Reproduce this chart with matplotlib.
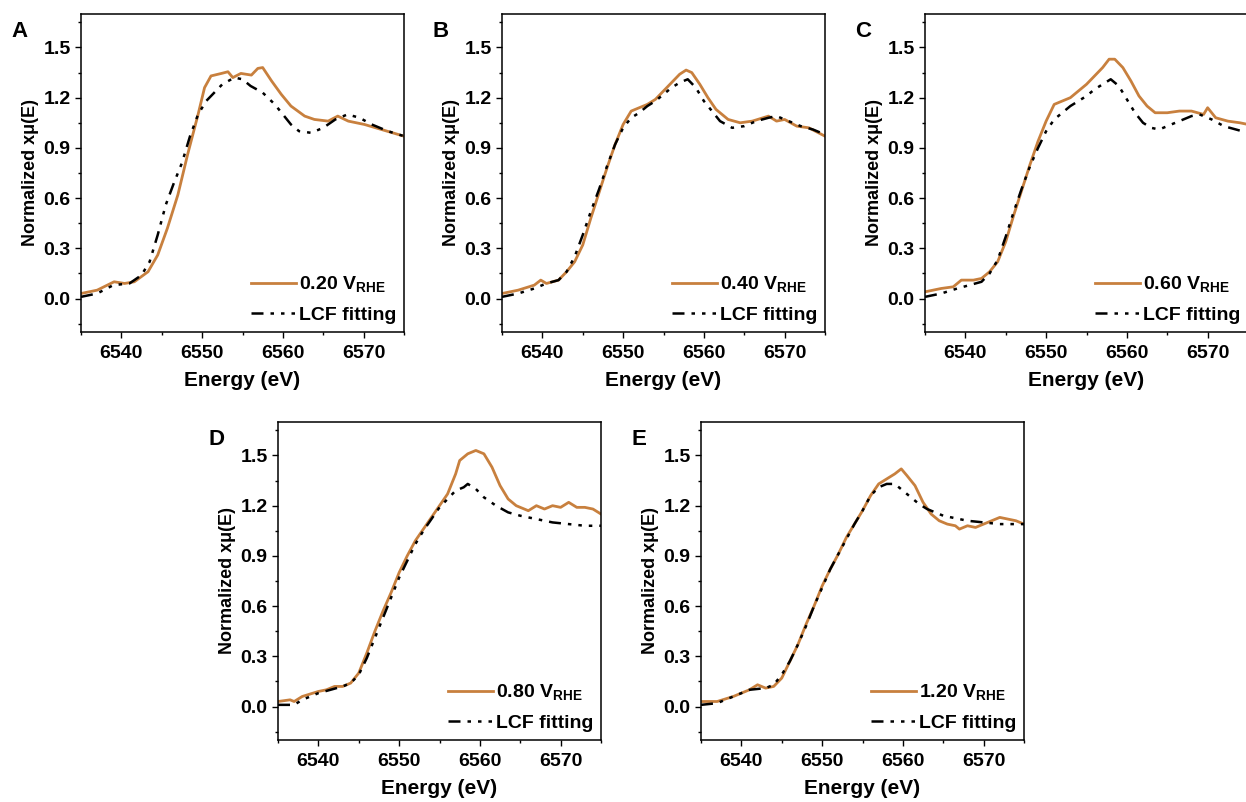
import matplotlib
matplotlib.use("Agg")
import matplotlib.pyplot as plt
from matplotlib.ticker import MultipleLocator

plt.rcParams['font.family'] = ['Liberation Sans', 'DejaVu Sans']
plt.rcParams['font.weight'] = 'bold'
plt.rcParams['mathtext.fontset'] = 'custom'
plt.rcParams['mathtext.rm'] = 'Liberation Sans:bold'
plt.rcParams['mathtext.bf'] = 'Liberation Sans:bold'

# ---- data ----
# panel A, 0.20 V
eA = [6535, 6537, 6539.1, 6540.4, 6541.6, 6543.3, 6544.5, 6545.7, 6547.0, 6548.2, 6549.5,
      6550.3, 6551.1, 6552.4, 6553.2, 6553.8, 6554.8, 6556.1, 6556.9, 6557.5, 6558.6, 6559.8,
      6561.0, 6562.7, 6563.9, 6565.6, 6566.8, 6568.1, 6570.1, 6572.2, 6575]
muA = [0.03, 0.05, 0.10, 0.09, 0.10, 0.16, 0.26, 0.42, 0.62, 0.86, 1.10,
       1.26, 1.33, 1.345, 1.355, 1.32, 1.345, 1.335, 1.375, 1.38, 1.30, 1.22,
       1.15, 1.09, 1.07, 1.06, 1.09, 1.06, 1.04, 1.01, 0.97]
eA_fit = [6535, 6537, 6539, 6541, 6542.5, 6543.5, 6544.5, 6545.5, 6546.5, 6547.5, 6548.5,
          6549.5, 6550.5, 6551.5, 6552.5, 6554, 6555, 6556, 6557.5, 6559, 6560, 6561,
          6562, 6563.5, 6565, 6566.5, 6568, 6569.5, 6571, 6573, 6575]
fitA = [0.01, 0.03, 0.08, 0.09, 0.14, 0.22, 0.38, 0.56, 0.69, 0.81, 0.97,
        1.10, 1.18, 1.23, 1.28, 1.32, 1.31, 1.27, 1.23, 1.16, 1.10, 1.04,
        1.00, 0.99, 1.02, 1.07, 1.10, 1.08, 1.04, 1.00, 0.97]

# panel B, 0.40 V
eB = [6535, 6537, 6539, 6539.8, 6540.5, 6542, 6543, 6544, 6545, 6546, 6547, 6548, 6549,
      6550, 6551, 6552, 6553, 6554, 6555, 6556, 6557, 6557.8, 6558.5, 6559.5, 6560.5,
      6561.5, 6563, 6564.5, 6566, 6568, 6569, 6570, 6571.5, 6573, 6575]
muB = [0.03, 0.05, 0.08, 0.11, 0.09, 0.11, 0.16, 0.22, 0.32, 0.48, 0.63, 0.78, 0.92,
       1.04, 1.12, 1.14, 1.16, 1.19, 1.24, 1.29, 1.34, 1.365, 1.35, 1.28, 1.20,
       1.13, 1.07, 1.05, 1.06, 1.09, 1.06, 1.07, 1.03, 1.02, 0.97]
eB_fit = [6535, 6537, 6539, 6540.5, 6542, 6543, 6544, 6545, 6546, 6547, 6548, 6549, 6550,
          6551, 6552, 6553, 6554, 6555, 6556, 6557, 6558, 6559, 6560, 6561, 6562, 6563.5,
          6565, 6566.5, 6568, 6569, 6570.5, 6572, 6573.5, 6575]
fitB = [0.01, 0.03, 0.06, 0.09, 0.11, 0.16, 0.25, 0.38, 0.52, 0.65, 0.79, 0.92, 1.02,
        1.08, 1.11, 1.15, 1.18, 1.22, 1.26, 1.29, 1.31, 1.26, 1.18, 1.12, 1.06, 1.02,
        1.03, 1.06, 1.08, 1.09, 1.06, 1.03, 1.01, 0.98]

# panel C, 0.60 V
eC = [6535, 6537, 6538.5, 6539.5, 6541, 6542, 6543, 6544, 6545, 6546, 6547, 6548, 6549,
      6550, 6551, 6552, 6553, 6554, 6555, 6556, 6557, 6557.8, 6558.5, 6559.5, 6560.5,
      6561.5, 6562.5, 6563.5, 6565, 6566.5, 6568, 6569.5, 6570, 6571, 6572.5, 6574, 6575]
muC = [0.04, 0.06, 0.07, 0.11, 0.11, 0.12, 0.16, 0.22, 0.34, 0.50, 0.65, 0.80, 0.94,
       1.06, 1.16, 1.18, 1.20, 1.24, 1.28, 1.33, 1.38, 1.43, 1.43, 1.38, 1.30,
       1.21, 1.15, 1.11, 1.11, 1.12, 1.12, 1.10, 1.14, 1.08, 1.06, 1.05, 1.04]
eC_fit = [6535, 6537, 6539, 6540.5, 6542, 6543, 6544, 6545, 6546, 6547, 6548, 6549, 6550,
          6551, 6552, 6553, 6554, 6555, 6556, 6557, 6558, 6559, 6560, 6561, 6562, 6563,
          6564, 6565, 6566.5, 6568, 6569, 6570.5, 6572, 6573.5, 6575]
fitC = [0.01, 0.03, 0.06, 0.08, 0.10, 0.15, 0.23, 0.37, 0.52, 0.66, 0.79, 0.90, 1.00,
        1.07, 1.11, 1.15, 1.18, 1.21, 1.25, 1.28, 1.31, 1.27, 1.19, 1.11, 1.05, 1.02,
        1.01, 1.03, 1.06, 1.09, 1.10, 1.07, 1.03, 1.01, 0.99]

# panel D, 0.80 V
eD = [6535, 6536.5, 6537, 6538, 6540, 6541, 6542, 6543, 6544, 6545, 6546, 6547, 6548,
      6549, 6550, 6551, 6552, 6553, 6554, 6555, 6556, 6557, 6557.5, 6558.5, 6559.5,
      6560.5, 6561.5, 6562.5, 6563.5, 6564.5, 6566, 6567, 6568, 6569, 6570, 6571, 6572,
      6573, 6574, 6575]
muD = [0.03, 0.04, 0.03, 0.06, 0.09, 0.10, 0.12, 0.12, 0.14, 0.20, 0.32, 0.45, 0.57,
       0.68, 0.80, 0.90, 0.99, 1.06, 1.13, 1.20, 1.27, 1.39, 1.47, 1.51, 1.53,
       1.51, 1.43, 1.32, 1.24, 1.20, 1.17, 1.20, 1.18, 1.20, 1.19, 1.22, 1.19,
       1.19, 1.18, 1.15]
eD_fit = [6535, 6537, 6538, 6540, 6541.5, 6543, 6544, 6545, 6546, 6547, 6548, 6549, 6550,
          6551, 6552, 6553, 6554, 6555, 6556, 6557, 6558, 6558.5, 6559.5, 6560.5, 6562,
          6563.5, 6565, 6567, 6569, 6571, 6573, 6575]
fitD = [0.01, 0.01, 0.04, 0.08, 0.10, 0.12, 0.14, 0.19, 0.29, 0.41, 0.53, 0.65, 0.77,
        0.87, 0.97, 1.05, 1.12, 1.19, 1.24, 1.29, 1.31, 1.33, 1.30, 1.25, 1.20,
        1.16, 1.14, 1.12, 1.10, 1.09, 1.08, 1.08]

# panel E, 1.20 V
eE = [6535, 6537, 6539, 6540, 6541, 6542, 6543, 6544, 6545, 6545.5, 6546, 6547, 6548,
      6549, 6550, 6551, 6552, 6553, 6554, 6555, 6556, 6557, 6558, 6559, 6559.8, 6560.5,
      6561.5, 6562.5, 6563.5, 6564.5, 6565.5, 6566.5, 6567, 6568, 6569, 6570, 6571,
      6572, 6573, 6574, 6575]
muE = [0.03, 0.03, 0.06, 0.08, 0.10, 0.13, 0.11, 0.12, 0.17, 0.22, 0.27, 0.37, 0.49,
       0.60, 0.72, 0.82, 0.91, 1.01, 1.09, 1.17, 1.26, 1.33, 1.36, 1.39, 1.42, 1.38,
       1.32, 1.22, 1.15, 1.11, 1.09, 1.08, 1.06, 1.08, 1.07, 1.09, 1.11,
       1.13, 1.12, 1.11, 1.09]
eE_fit = [6535, 6537, 6539, 6541, 6543, 6544, 6545, 6546, 6547, 6548, 6549, 6550, 6551,
          6552, 6553, 6554, 6555, 6556, 6557, 6558, 6559, 6560, 6561, 6562, 6563, 6564,
          6565, 6566, 6567, 6568, 6570, 6572, 6575]
fitE = [0.01, 0.02, 0.06, 0.10, 0.11, 0.13, 0.19, 0.27, 0.37, 0.48, 0.60, 0.71, 0.82,
        0.91, 1.00, 1.09, 1.17, 1.26, 1.31, 1.33, 1.33, 1.29, 1.25, 1.21, 1.18, 1.16,
        1.14, 1.13, 1.12, 1.11, 1.10, 1.09, 1.09]

panels = [
    ('A', '0.20', eA, muA, eA_fit, fitA, (81, 14)),
    ('B', '0.40', eB, muB, eB_fit, fitB, (502, 14)),
    ('C', '0.60', eC, muC, eC_fit, fitC, (925, 14)),
    ('D', '0.80', eD, muD, eD_fit, fitD, (278, 422)),
    ('E', '1.20', eE, muE, eE_fit, fitE, (701, 422)),
]

W, H = 1246, 802
fig = plt.figure(figsize=(W / 100, H / 100), dpi=100)
orange = '#C8803E'

for letter, volt, e, mu, ef, fit, (px, py) in panels:
    ax = fig.add_axes([px / W, 1 - (py + 318) / H, 323 / W, 318 / H])
    ax.plot(e, mu, color=orange, lw=2.0, label=volt + r' V$_{\mathrm{RHE}}$')
    ax.plot(ef, fit, color='black', lw=1.8,
            dashes=(4.8, 2.8, 1.4, 2.8, 1.4, 2.8, 1.4, 2.8), label='LCF fitting')
    ax.set_xlim(6535, 6575)
    ax.set_ylim(-0.2, 1.7)
    ax.xaxis.set_major_locator(MultipleLocator(10))
    ax.xaxis.set_minor_locator(MultipleLocator(5))
    ax.set_yticks([0, 0.3, 0.6, 0.9, 1.2, 1.5])
    ax.yaxis.set_minor_locator(MultipleLocator(0.15))
    ax.tick_params(which='both', direction='out', labelsize=14, width=1)
    ax.tick_params(which='major', length=4)
    ax.tick_params(which='minor', length=2.5)
    ax.tick_params(axis='x', pad=5)
    for s in ax.spines.values():
        s.set_linewidth(1.1)
    ax.set_xlabel('Energy (eV)', fontsize=15, fontweight='bold', labelpad=7)
    ax.set_ylabel('Normalized x\u03bc(E)', fontsize=13, fontweight='bold', labelpad=3)
    ax.text(-0.215, 0.946, letter, transform=ax.transAxes, fontsize=16,
            fontweight='bold', ha='left', va='center')
    ax.legend(loc='lower right', frameon=False, fontsize=14, handlelength=2.3,
              handletextpad=0.15, labelspacing=0.6, borderaxespad=0.1,
              borderpad=0.3)

fig.savefig('out.png', dpi=100)
